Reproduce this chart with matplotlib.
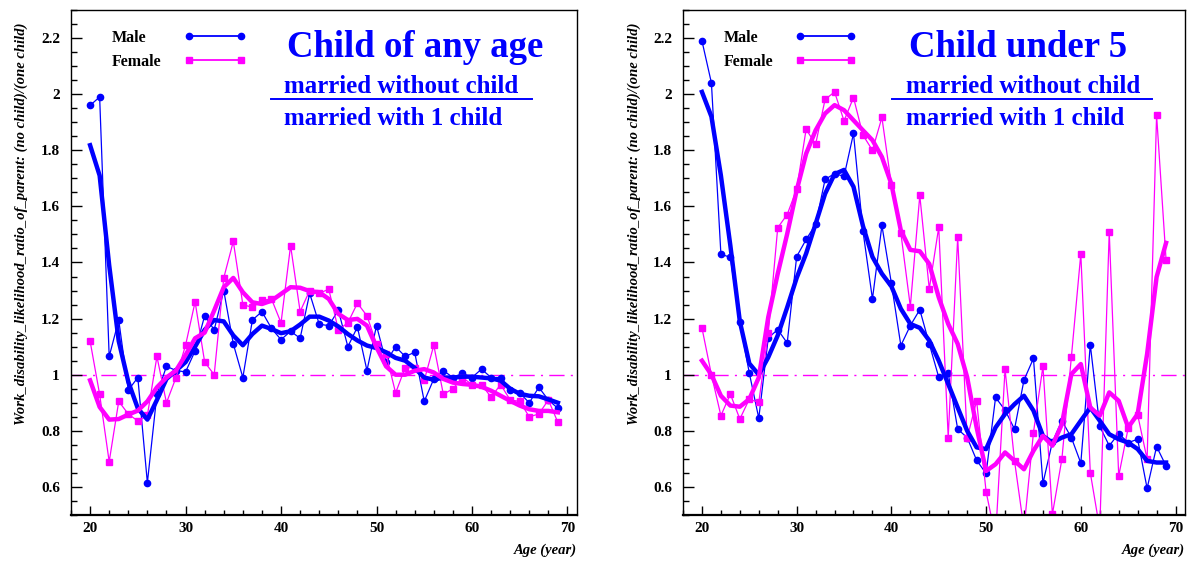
import matplotlib
matplotlib.use('Agg')
import matplotlib.pyplot as plt
from matplotlib.ticker import MultipleLocator
import numpy as np

plt.rcParams['font.family'] = ['Liberation Serif', 'DejaVu Serif']
plt.rcParams['font.weight'] = 'bold'

ages = np.arange(20, 70)

# Child of any age
male_any = [1.96, 1.99, 1.065, 1.195, 0.945, 0.99, 0.615, 0.93, 1.03, 1.015,
            1.01, 1.085, 1.21, 1.16, 1.30, 1.11, 0.99, 1.195, 1.225, 1.165,
            1.125, 1.155, 1.13, 1.29, 1.18, 1.175, 1.23, 1.10, 1.17, 1.015,
            1.175, 1.045, 1.10, 1.065, 1.08, 0.905, 0.985, 1.015, 0.99, 1.005,
            0.99, 1.02, 0.99, 0.99, 0.945, 0.935, 0.90, 0.955, 0.91, 0.88]
female_any = [1.12, 0.93, 0.69, 0.905, 0.86, 0.835, 0.855, 1.065, 0.90, 0.99,
              1.105, 1.26, 1.045, 1.00, 1.345, 1.475, 1.25, 1.24, 1.265, 1.27,
              1.185, 1.46, 1.225, 1.30, 1.29, 1.305, 1.16, 1.185, 1.255, 1.21,
              1.11, 1.075, 0.935, 1.025, 1.025, 0.98, 1.105, 0.93, 0.95, 0.99,
              0.965, 0.965, 0.92, 0.965, 0.91, 0.905, 0.85, 0.86, 0.91, 0.83]
male_any_smooth = [1.818, 1.71, 1.39, 1.12, 0.975, 0.88, 0.84, 0.91, 0.985, 1.015,
                   1.045, 1.10, 1.16, 1.195, 1.19, 1.14, 1.105, 1.145, 1.175, 1.163,
                   1.148, 1.155, 1.179, 1.207, 1.207, 1.193, 1.172, 1.145, 1.122, 1.104,
                   1.095, 1.08, 1.06, 1.05, 1.024, 0.99, 0.982, 0.99, 0.99, 0.993,
                   0.993, 0.99, 0.987, 0.979, 0.95, 0.932, 0.925, 0.923, 0.912, 0.90]
female_any_smooth = [0.98, 0.885, 0.84, 0.842, 0.858, 0.872, 0.905, 0.955, 0.99, 1.015,
                     1.07, 1.13, 1.15, 1.229, 1.312, 1.345, 1.294, 1.258, 1.252, 1.264,
                     1.288, 1.312, 1.31, 1.298, 1.294, 1.27, 1.217, 1.195, 1.199, 1.175,
                     1.098, 1.03, 1.0, 1.0, 1.014, 1.02, 1.008, 0.985, 0.972, 0.967,
                     0.964, 0.957, 0.943, 0.925, 0.907, 0.89, 0.877, 0.871, 0.871, 0.866]

# Child under 5
male_u5 = [2.19, 2.04, 1.43, 1.418, 1.187, 1.006, 0.845, 1.131, 1.161, 1.113,
           1.421, 1.482, 1.536, 1.696, 1.717, 1.707, 1.86, 1.512, 1.27, 1.532,
           1.326, 1.104, 1.175, 1.232, 1.11, 0.991, 1.006, 0.806, 0.776, 0.695,
           0.648, 0.919, 0.874, 0.806, 0.981, 1.058, 0.613, 0.76, 0.836, 0.776,
           0.685, 1.107, 0.816, 0.747, 0.79, 0.758, 0.77, 0.595, 0.744, 0.675]
female_u5 = [1.167, 1.0, 0.854, 0.931, 0.842, 0.913, 0.901, 1.148, 1.524, 1.571,
             1.661, 1.875, 1.821, 1.981, 2.008, 1.905, 1.988, 1.854, 1.80, 1.917,
             1.677, 1.505, 1.243, 1.639, 1.306, 1.526, 0.776, 1.49, 0.774, 0.907,
             0.583, 0.42, 1.02, 0.693, 0.45, 0.794, 1.03, 0.503, 0.699, 1.062,
             1.431, 0.651, 0.45, 1.51, 0.639, 0.81, 0.857, 0.699, 1.925, 1.41]
male_u5_smooth = [2.008, 1.92, 1.71, 1.46, 1.19, 1.04, 1.0, 1.062, 1.14, 1.24,
                  1.345, 1.432, 1.538, 1.645, 1.715, 1.73, 1.67, 1.53, 1.42, 1.36,
                  1.315, 1.235, 1.181, 1.167, 1.122, 1.05, 0.967, 0.883, 0.80, 0.741,
                  0.735, 0.812, 0.86, 0.895, 0.925, 0.872, 0.782, 0.758, 0.776, 0.788,
                  0.836, 0.883, 0.836, 0.788, 0.77, 0.758, 0.735, 0.693, 0.687, 0.687]
female_u5_smooth = [1.05, 1.0, 0.925, 0.89, 0.886, 0.913, 0.99, 1.205, 1.36, 1.502,
                    1.657, 1.788, 1.871, 1.931, 1.961, 1.943, 1.907, 1.871, 1.836, 1.776,
                    1.68, 1.514, 1.445, 1.44, 1.395, 1.276, 1.181, 1.11, 0.991, 0.812,
                    0.657, 0.681, 0.723, 0.693, 0.663, 0.729, 0.782, 0.747, 0.824, 1.002,
                    1.038, 0.883, 0.854, 0.937, 0.907, 0.812, 0.86, 1.074, 1.348, 1.47]

titles = ['Child of any age', 'Child under 5']
numerator = 'married without child'
denominator = 'married with 1 child'
series_names = ['Male', 'Female']
ylabel = 'Work_disability_likelihood_ratio_of_parent: (no child)/(one child)'
xlabel = 'Age (year)'

BLUE = '#0000ff'
PINK = '#ff00ff'


def draw_panel(ax, male, female, male_s, female_s, title, tx, fx, lx):
    ax.axhline(1.0, color=PINK, lw=1.0, linestyle=(0, (11, 4.5, 1.5, 4.5)), zorder=1)
    ax.plot(ages, male, '-', color=BLUE, lw=0.9, marker='o', markersize=4.5, zorder=2)
    ax.plot(ages, female, '-', color=PINK, lw=0.9, marker='s', markersize=4.2, zorder=2)
    ax.plot(ages, male_s, '-', color=BLUE, lw=3.2, zorder=3, solid_joinstyle='round')
    ax.plot(ages, female_s, '-', color=PINK, lw=3.2, zorder=4, solid_joinstyle='round')

    ax.set_xlim(18, 71)
    ax.set_ylim(0.5, 2.3)
    ax.xaxis.set_major_locator(MultipleLocator(10))
    ax.xaxis.set_minor_locator(MultipleLocator(2))
    ax.set_yticks(np.arange(0.6, 2.21, 0.2))
    ax.set_yticklabels(['0.6', '0.8', '1', '1.2', '1.4', '1.6', '1.8', '2', '2.2'])
    ax.yaxis.set_minor_locator(MultipleLocator(0.05))
    ax.tick_params(axis='y', which='major', direction='in', length=8, width=1, pad=8, labelsize=11)
    ax.tick_params(axis='y', which='minor', direction='in', length=4.5, width=1)
    ax.tick_params(axis='x', which='major', direction='in', length=6.5, width=1, pad=5, labelsize=11)
    ax.tick_params(axis='x', which='minor', direction='in', length=3.5, width=1)
    for sp in ax.spines.values():
        sp.set_linewidth(1.0)
        sp.set_color('black')
    ax.spines['bottom'].set_linewidth(1.6)

    # legend: label on the left, sample line with end markers on the right
    for name, col, mk, ms, ty in [(series_names[0], BLUE, 'o', 4.5, 0.9446),
                                  (series_names[1], PINK, 's', 4.2, 0.897)]:
        ax.text(0.081, ty, name, transform=ax.transAxes, ha='left', va='center',
                fontsize=11.5, fontweight='bold')
        ax.plot([0.233, 0.335], [ty + 0.004, ty + 0.004], transform=ax.transAxes,
                color=col, lw=1.3, marker=mk, markersize=ms)

    ax.text(tx, 0.907, title, transform=ax.transAxes, ha='left', va='baseline',
            color=BLUE, fontsize=26.5, fontweight='bold')
    ax.text(fx, 0.8356, numerator, transform=ax.transAxes, ha='left', va='baseline',
            color=BLUE, fontsize=18, fontweight='bold')
    ax.text(fx, 0.772, denominator, transform=ax.transAxes, ha='left', va='baseline',
            color=BLUE, fontsize=18, fontweight='bold')
    ax.plot(lx, [0.8238, 0.8238], transform=ax.transAxes, color=BLUE, lw=1.4, clip_on=False)

    ax.text(-0.098, 0.976, ylabel, transform=ax.transAxes, rotation=90, ha='center', va='top',
            fontsize=10.5, fontweight='bold', fontstyle='italic')
    ax.text(1.0, -0.069, xlabel, transform=ax.transAxes, ha='right', va='center',
            fontsize=10.5, fontweight='bold', fontstyle='italic')


fig = plt.figure(figsize=(11.88, 5.61), dpi=100)
ax1 = fig.add_axes([0.05976, 0.0820, 0.42593, 0.90018])
ax2 = fig.add_axes([0.57492, 0.0820, 0.42256, 0.90018])

draw_panel(ax1, male_any, female_any, male_any_smooth, female_any_smooth,
           titles[0], 0.427, 0.421, [0.395, 0.912])
draw_panel(ax2, male_u5, female_u5, male_u5_smooth, female_u5_smooth,
           titles[1], 0.450, 0.4436, [0.416, 0.934])

fig.savefig('out.png', dpi=100)
